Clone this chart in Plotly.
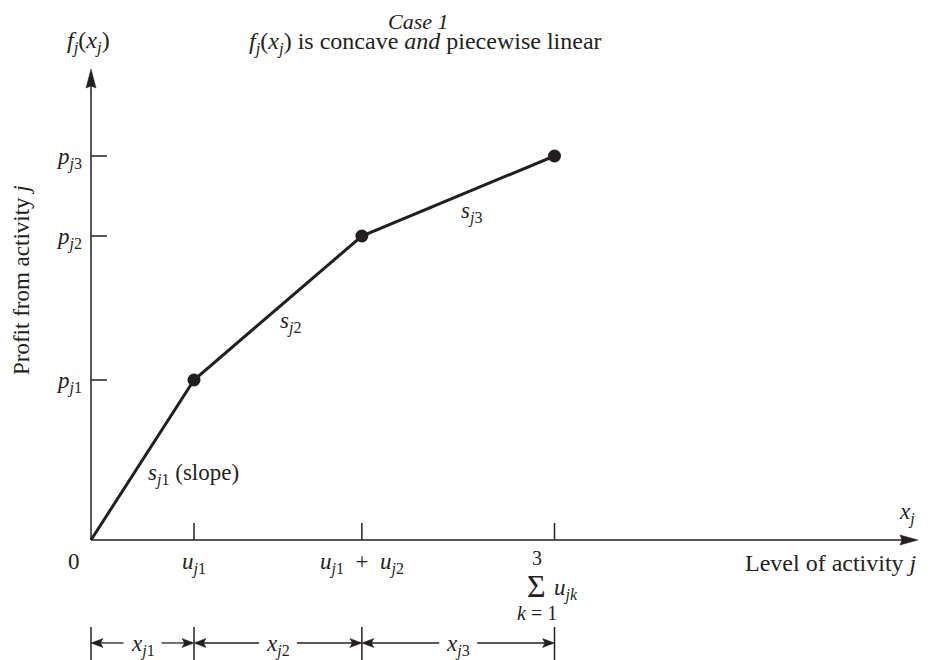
import plotly.graph_objects as go

# ---------------- data ----------------
breaks_x = [0, 1.0, 2.63, 4.5]          # 0, u_j1, u_j1+u_j2, sum u_jk
breaks_y = [0, 2.0, 3.8, 4.8]           # 0, p_j1, p_j2, p_j3
x_tick_labels = ["0",
                 "<i>u</i><sub><i>j</i>1</sub>",
                 "<i>u</i><sub><i>j</i>1</sub>\u2002+\u2002<i>u</i><sub><i>j</i>2</sub>"]
y_tick_labels = ["<i>p</i><sub><i>j</i>1</sub>",
                 "<i>p</i><sub><i>j</i>2</sub>",
                 "<i>p</i><sub><i>j</i>3</sub>"]
slope_labels = ["<i>s</i><sub><i>j</i>1</sub> (slope)",
                "<i>s</i><sub><i>j</i>2</sub>",
                "<i>s</i><sub><i>j</i>3</sub>"]
segment_labels = ["<i>x</i><sub><i>j</i>1</sub>",
                  "<i>x</i><sub><i>j</i>2</sub>",
                  "<i>x</i><sub><i>j</i>3</sub>"]

# ---------------- geometry helpers ----------------
PAGE_W, PAGE_H = 934, 660
BODY = 8                      # default page margin of the html body
X0_PX, Y0_PX = 91, 540        # page pixel of the origin
SX, SY = 103.0, 80.0          # pixels per data unit


def X(px):
    return (px - X0_PX) / SX


def Y(py):
    return (Y0_PX - py) / SY


INK = "#231f20"
FONT = "Liberation Serif, Times New Roman, serif"

fig = go.Figure()
fig.add_trace(go.Scatter(
    x=breaks_x, y=breaks_y, mode="lines+markers",
    line=dict(color=INK, width=3),
    marker=dict(size=[0, 13, 13, 13], color=INK, opacity=1,
                line=dict(color=INK, width=0)),
    hoverinfo="skip", showlegend=False, cliponaxis=False))

shapes = []


def seg(x0, y0, x1, y1, w=1.5):
    shapes.append(dict(type="line", xref="x", yref="y", x0=x0, y0=y0, x1=x1, y1=y1,
                       line=dict(color=INK, width=w)))


def head(tx, ty, direction, L, W, N):
    # tip at (tx,ty) in data coords; sizes in px
    if direction == "right":
        pts = [(tx, ty), (tx - L / SX, ty + W / SY), (tx - (L - N) / SX, ty), (tx - L / SX, ty - W / SY)]
    elif direction == "left":
        pts = [(tx, ty), (tx + L / SX, ty + W / SY), (tx + (L - N) / SX, ty), (tx + L / SX, ty - W / SY)]
    else:  # up
        pts = [(tx, ty), (tx - W / SX, ty - L / SY), (tx, ty - (L - N) / SY), (tx + W / SX, ty - L / SY)]
    path = "M " + " L ".join(f"{a:.5f},{b:.5f}" for a, b in pts) + " Z"
    shapes.append(dict(type="path", xref="x", yref="y", path=path,
                       fillcolor=INK, line=dict(color=INK, width=0.5)))


# axes
x_tip, y_tip = X(918), Y(69)
seg(0, 0, x_tip - 10 / SX, 0)
seg(0, 0, 0, y_tip - 10 / SY)
head(x_tip, 0, "right", 18, 5, 2)
head(0, y_tip, "up", 19, 5, 2)

# ticks
for xv in breaks_x[1:]:
    seg(xv, 0, xv, 17 / SY)
for yv in breaks_y[1:]:
    seg(0, yv, 16 / SX, yv)

# dimension arrows at bottom
y_dim = Y(643)
for xv in breaks_x:
    seg(xv, Y(627), xv, Y(662))
gap = 19 / SX
for i in range(3):
    a, b = breaks_x[i], breaks_x[i + 1]
    m = (a + b) / 2
    seg(a + 2 / SX, y_dim, m - gap, y_dim, 1.3)
    seg(m + gap, y_dim, b - 2 / SX, y_dim, 1.3)
    head(a, y_dim, "left", 12, 4.5, 2.5)
    head(b, y_dim, "right", 12, 4.5, 2.5)

ann = []


def txt(x, y, t, size=23, xa="center", ya="middle", angle=0):
    ann.append(dict(x=x, y=y, xref="x", yref="y", text=t, showarrow=False,
                    xanchor=xa, yanchor=ya, textangle=angle, borderpad=0,
                    font=dict(family=FONT, size=size, color=INK)))


# titles
txt(X(418), Y(21), "<i>Case 1</i>", 22)
txt(X(425), Y(43), "<i>f</i><sub><i>j</i></sub>(<i>x</i><sub><i>j</i></sub>) is concave <i>and</i> piecewise linear", 24)
txt(X(88), Y(42), "<i>f</i><sub><i>j</i></sub>(<i>x</i><sub><i>j</i></sub>)", 24)

# axis titles
txt(X(21), Y(280), "Profit from activity <i>j</i>", 23, angle=-90)
txt(X(918), Y(563), "Level of activity <i>j</i>", 24, xa="right")
txt(X(907), Y(513), "<i>x</i><sub><i>j</i></sub>", 23)

# x tick labels
txt(X(74), Y(561), x_tick_labels[0])
txt(breaks_x[1], Y(563), x_tick_labels[1])
txt(breaks_x[2], Y(563), x_tick_labels[2])
sx = breaks_x[3] - 18 / SX
txt(sx, Y(558), "3", 20)
txt(sx, Y(586), "\u03a3", 32)
txt(sx, Y(613), "<i>k</i> = 1", 20)
txt(sx + 16 / SX, Y(589), "<i>u</i><sub><i>jk</i></sub>", 23, xa="left")

# y tick labels
for yv, t in zip(breaks_y[1:], y_tick_labels):
    txt(X(83), yv - 2 / SY, t, 23, xa="right")

# slope labels
txt(X(147), Y(474), slope_labels[0], 23, xa="left")
txt(X(279), Y(322), slope_labels[1], 23, xa="left")
txt(X(460), Y(212), slope_labels[2], 23, xa="left")

# segment labels
for i, t in enumerate(segment_labels):
    txt((breaks_x[i] + breaks_x[i + 1]) / 2, y_dim - 2 / SY, t, 23)

fig.update_layout(
    width=PAGE_W - BODY, height=PAGE_H - BODY,
    margin=dict(l=0, r=0, t=0, b=0),
    paper_bgcolor="white", plot_bgcolor="white",
    xaxis=dict(range=[X(BODY), X(PAGE_W)], visible=False, fixedrange=True),
    yaxis=dict(range=[Y(PAGE_H), Y(BODY)], visible=False, fixedrange=True),
    shapes=shapes, annotations=ann, showlegend=False,
)

fig.write_html("out.html")
